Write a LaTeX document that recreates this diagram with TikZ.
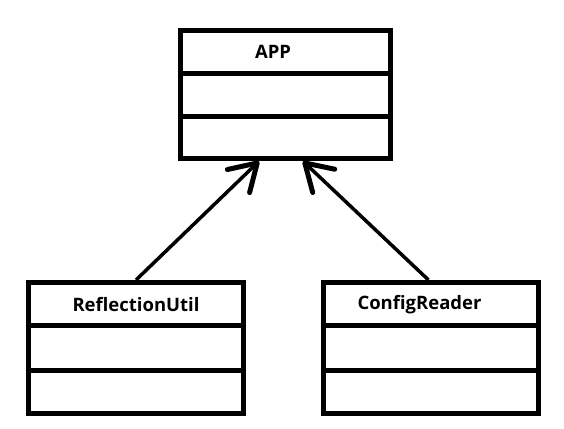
\documentclass[tikz,border=0pt]{standalone}
\usepackage{fontspec}
\setmainfont{Open Sans}
\usetikzlibrary{calc,arrows.meta}

\tikzset{
  classbox/.style={draw, rectangle, line width=5pt, inner sep=0pt},
  classname/.style={font=\fontsize{18.5}{20}\selectfont\bfseries},
  divider/.style={line width=5pt},
  inherit/.style={line width=3.5pt, -{Straight Barb[length=26pt, width=32pt, line width=5pt, round]}}
}

\begin{document}
\begin{tikzpicture}[x=1pt, y=-1pt]
        \useasboundingbox (0,0) rectangle (564,428);

        % Draw the parent class
        \node[classbox, minimum width=210pt, minimum height=128.5pt] (APP) at (285,94.5) {};
        \node[classname] (APPname) at (273,52) {APP};
        \draw[divider] (APP.west |- 0,73) -- (APP.east |- 0,73);
        \draw[divider] (APP.west |- 0,116.5) -- (APP.east |- 0,116.5);

        % Draw the two child classes
        \node[classbox, minimum width=215pt, minimum height=130.5pt] (RU) at (136,347.75) {};
        \node[classname] (RUname) at (136,305) {ReflectionUtil};
        \draw[divider] (RU.west |- 0,325.5) -- (RU.east |- 0,325.5);
        \draw[divider] (RU.west |- 0,370) -- (RU.east |- 0,370);

        \node[classbox, minimum width=215pt, minimum height=130.5pt] (CR) at (430.5,347.75) {};
        \node[classname] (CRname) at (419.5,305) {ConfigReader};
        \draw[divider] (CR.west |- 0,325.5) -- (CR.east |- 0,325.5);
        \draw[divider] (CR.west |- 0,370) -- (CR.east |- 0,370);

        % Draw the inheritance arrows
        \draw[inherit] (RU.north) -- ($(APP.south)+(-26,0)$);
        \draw[inherit] ($(CR.north)+(-2,0)$) -- ($(APP.south)+(18,0)$);
    \end{tikzpicture}
\end{document}
